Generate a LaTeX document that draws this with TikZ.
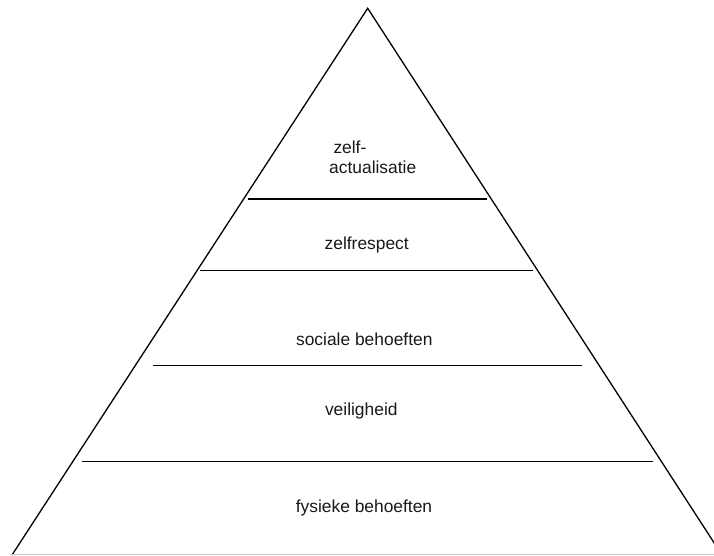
\documentclass[tikz,border=0pt]{standalone}
\usepackage{fontspec}
\setmainfont{Liberation Sans}
\begin{document}
\begin{tikzpicture}[x=1pt,y=-1pt,
  edge/.style={draw=black,line width=1.3pt},
  level/.style={draw=black,line width=1.3pt},
  lbl/.style={inner sep=0pt,anchor=base,font=\fontsize{17.4}{20}\selectfont,text=black!90}]
\useasboundingbox (0,0) rectangle (714,556);
\clip (0,0) rectangle (714,556);
\coordinate (apex) at (367.7,8.3);
\coordinate (bl) at (12,555);
\coordinate (br) at (722,555);
\draw[edge] (bl) -- (apex) -- (br);
\coordinate (g1) at (10,554.7);
\coordinate (g2) at (714,554.7);
\draw[draw=black!22,line width=1pt] (g1) -- (g2);
% level lines
\coordinate (a1) at (248,199); \coordinate (a2) at (487,199);
\coordinate (b1) at (200,270.5); \coordinate (b2) at (533,270.5);
\coordinate (c1) at (153,365.7); \coordinate (c2) at (582,365.7);
\coordinate (d1) at (82,461.7); \coordinate (d2) at (653,461.7);
\draw[level] (a1) -- (a2);
\draw[level] (b1) -- (b2);
\draw[level] (c1) -- (c2);
\draw[level] (d1) -- (d2);
% labels
\node[lbl,anchor=base west] (t1a) at (333.3,154) {zelf-};
\node[lbl,anchor=base west] (t1b) at (329,174) {actualisatie};
\node[lbl] (t2) at (366.7,249) {zelfrespect};
\node[lbl] (t3) at (364.3,345) {sociale behoeften};
\node[lbl] (t4) at (361.3,415) {veiligheid};
\node[lbl] (t5) at (364,512) {fysieke behoeften};
\end{tikzpicture}
\end{document}
